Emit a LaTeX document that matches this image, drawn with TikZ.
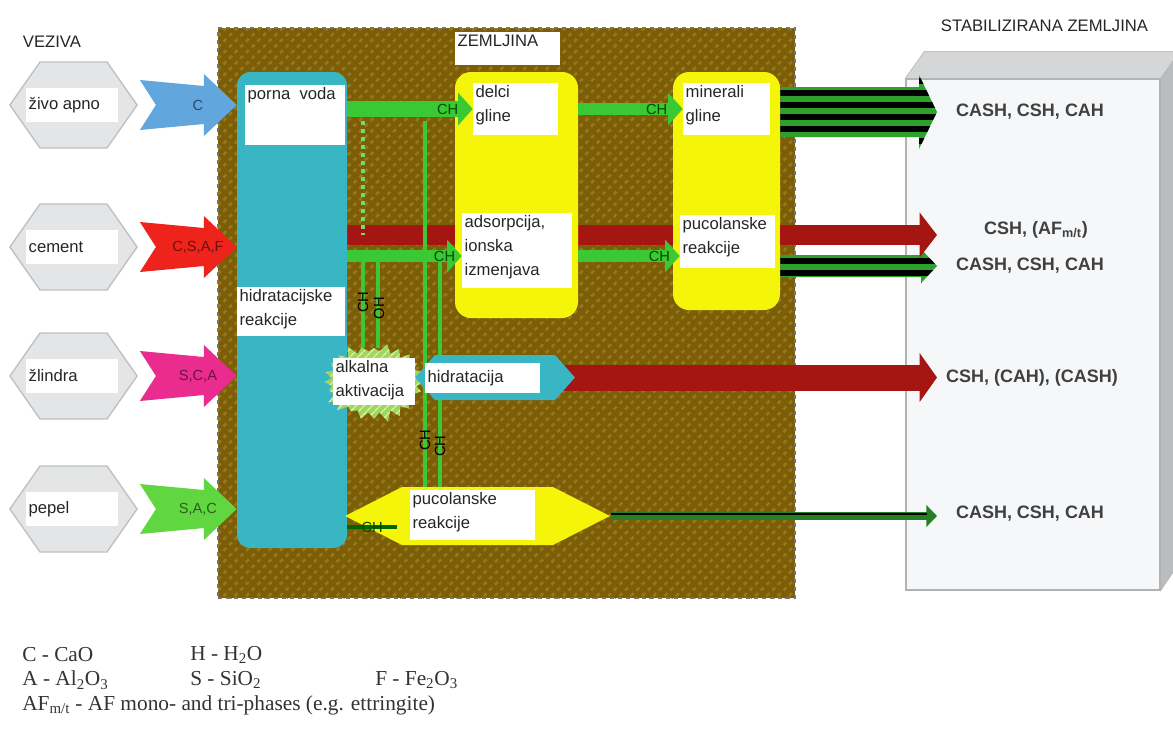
\documentclass[tikz,border=0pt]{standalone}
\usepackage{fontspec}
\setmainfont{Liberation Sans}
\newfontfamily\legendfont{Liberation Serif}
\usepackage{tikz}
\usetikzlibrary{positioning,arrows.meta,calc,fit,shapes.symbols,patterns.meta,backgrounds}
\usepackage{xcolor}

\definecolor{soil}{RGB}{124,94,6}
\definecolor{soilline}{RGB}{150,118,30}
\definecolor{poreblue}{RGB}{56,182,196}
\definecolor{clayyellow}{RGB}{245,245,10}
\definecolor{chgreen}{RGB}{58,200,52}
\definecolor{darkred}{RGB}{165,22,18}
\definecolor{stripegreen}{RGB}{46,160,46}
\definecolor{hexgray}{RGB}{228,229,231}
\definecolor{limeblue}{RGB}{98,166,222}
\definecolor{cemred}{RGB}{238,36,28}
\definecolor{slagpink}{RGB}{234,44,142}
\definecolor{ashgreen}{RGB}{96,214,64}
\definecolor{alkgreen}{RGB}{160,214,90}
\definecolor{boxfront}{RGB}{246,247,249}
\definecolor{boxtop}{RGB}{212,214,215}
\definecolor{boxside}{RGB}{186,188,190}

\begin{document}
\begin{tikzpicture}[x=0.75pt,y=-0.75pt,
  lbl/.style={font=\fontsize{12.5}{18}\selectfont,text=black!85,align=left,inner sep=2pt},
  wbox/.style={fill=white,inner sep=0pt},
  hexa/.style={shape=signal,signal to=west and east,inner sep=0pt},
  result/.style={font=\fontsize{13.5}{15}\selectfont\bfseries,text=black!75},
  chem/.style={font=\fontsize{11}{12}\selectfont},
  chtext/.style={font=\fontsize{11}{12}\selectfont,text=green!30!black,inner sep=1pt},
  charrow/.style={chgreen,line width=12pt,-{Triangle[length=11pt,width=24pt]}},
  redband/.style={darkred,line width=15pt},
  vline/.style={chgreen,line width=2.5pt},
  stripes/.style={fill=stripegreen,postaction={pattern={Lines[angle=0,distance=9pt,line width=4pt]},pattern color=black}},
  legend/.style={font=\legendfont\fontsize{16}{18}\selectfont,text=black!80,anchor=west,inner sep=0pt}]
\useasboundingbox (0,0) rectangle (1173,729);

% soil
\begin{scope}[on background layer]
\node[fit={(218,28)(795,598)},inner sep=0pt,fill=soil,draw=black!55,dashed,line width=1pt,
  postaction={pattern={Lines[angle=45,distance=6pt,line width=2pt]},pattern color=soilline}] (soil) {};
\end{scope}

% titles
\node[lbl,anchor=west] (veziva) at (20,42) {VEZIVA};
\node[lbl,anchor=west] (stabtitle) at (938,26) {STABILIZIRANA ZEMLJINA};
\node[wbox,fit={(455,32)(560,65)}] (zembox) {};
\node[lbl,anchor=north west] (zemtxt) at (zembox.north west) {ZEMLJINA};

% pore water
\node[fit={(237,72)(347,548)},inner sep=0pt,fill=poreblue,rounded corners=10pt] (pore) {};
\node[wbox,fit={(245,85)(345,145)}] (porna) {};
\node[lbl,anchor=north west] (pornatxt) at (porna.north west) {porna\ \ voda};
\node[wbox,fit={(237,287)(345,336)}] (hidr) {};
\node[lbl,anchor=north west] (hidrtxt) at (hidr.north west) {hidratacijske\\reakcije};

% binders
\foreach \y/\name/\txt/\col/\chm in {105/apno/živo apno/limeblue/C,247/cement/cement/cemred/{C,S,A,F},376/zlindra/žlindra/slagpink/{S,C,A},509/pepel/pepel/ashgreen/{S,A,C}}{
  \node[hexa,fit={(40,\y-43)(107,\y+43)},signal pointer angle=110,fill=hexgray,draw=black!25,line width=1pt] (\name) {};
  \node[wbox,fit={(26,\y-17)(118,\y+17)}] (\name w) {};
  \node[lbl,anchor=west] (\name t) at (\name w.west) {\txt};
  \fill[\col] ($(\name.east)+(2,-25)$) -- ($(\name.east)+(66,-19)$) -- ($(\name.east)+(66,-31)$) -- (\name.east -| pore.west)
    -- ($(\name.east)+(66,31)$) -- ($(\name.east)+(66,19)$) -- ($(\name.east)+(2,25)$) -- ($(\name.east)+(18,0)$) -- cycle;
  \node[chem,text=\col!45!black] (\name a) at ($(\name.east)+(60,0)$) {\chm};
}

% clay
\node[fit={(455,72)(578,318)},inner sep=0pt,fill=clayyellow,rounded corners=12pt] (clay) {};
\node[wbox,fit={(473,83)(558,135)}] (delci) {};
\node[lbl,anchor=north west] (delcitxt) at (delci.north west) {delci\\gline};
\node[wbox,fit={(462,213)(572,288)}] (adsorp) {};
\node[lbl,anchor=north west] (adsorptxt) at (adsorp.north west) {adsorpcija,\\ionska\\izmenjava};
\node[fit={(673,72)(780,310)},inner sep=0pt,fill=clayyellow,rounded corners=12pt] (mineral) {};
\node[wbox,fit={(683,83)(770,135)}] (mingl) {};
\node[lbl,anchor=north west] (mingltxt) at (mingl.north west) {minerali\\gline};
\node[wbox,fit={(680,215)(775,268)}] (pucol) {};
\node[lbl,anchor=north west] (pucoltxt) at (pucol.north west) {pucolanske\\reakcije};

% slag and ash
\node[shape=starburst,starburst points=24,starburst point height=8pt,random starburst=3,
  minimum width=80pt,minimum height=62pt,fill=alkgreen,
  postaction={pattern={Lines[angle=45,distance=4pt,line width=1pt]},pattern color=white!70!alkgreen}] (alk) at (374,382) {};
\node[wbox,fit={(333,358)(415,405)}] (alkw) {};
\node[lbl,anchor=north west] (alktxt) at (alkw.north west) {alkalna\\aktivacija};
\node[hexa,fit={(435,355)(555,400)},fill=poreblue,signal pointer angle=97] (hidra) {};
\node[wbox,fit={(425,363)(540,393)}] (hidraw) {};
\node[lbl,anchor=west] (hidratxt) at (hidraw.west) {hidratacija};
\node[hexa,fit={(402,487)(553,545)},fill=clayyellow,signal pointer angle=54] (puc) {};
\node[wbox,fit={(410,490)(535,540)}] (pucw) {};
\node[lbl,anchor=north west] (puctxt) at (pucw.north west) {pucolanske\\reakcije};

% stabilised soil
\node[fit={(906,79)(1160,590)},inner sep=0pt,fill=boxfront,draw=black!30,line width=1pt] (stab) {};
\filldraw[fill=boxtop,draw=black!30] (stab.north west) -- ++(19,-27) -- ++(280,0) -- (stab.north east) -- cycle;
\filldraw[fill=boxside,draw=black!30] (stab.north east) -- ++(19,-27) -- ++(0,511) -- (stab.south east) -- cycle;

\coordinate (tips) at (937,0);
\node[result] (res1) at (1030,112) {CASH, CSH, CAH};
\node[result] (res2) at (1036,230) {CSH, (AF\textsubscript{m/t})};
\node[result] (res3) at (1030,266) {CASH, CSH, CAH};
\node[result] (res4) at (1032,378) {CSH, (CAH), (CASH)};
\node[result] (res5) at (1030,514) {CASH, CSH, CAH};

\coordinate (rowred) at (0,235);
\coordinate (rowch) at (0,256);
\coordinate (va) at (363,121);
\coordinate (vb) at (425,121);
\coordinate (vc) at (440,262);
\coordinate (vd) at (363,262);
\coordinate (ve) at (378,262);
\coordinate (chend) at (397,527);

\begin{scope}[on background layer]
\draw[redband] (pore.east |- rowred) -- (clay.west |- rowred);
\draw[redband] (clay.east |- rowred) -- (mineral.west |- rowred);
\draw[darkred,line width=19.5pt] (hidra.center) -- ($(tips |- hidra.east)+(-30,0)$);
\draw[vline,dashed,chgreen!70!white] (va) -- (va |- rowred);
\draw[vline] (vd) -- (vd |- alk.north);
\draw[vline] (ve) -- (ve |- alk.north);
\draw[vline] (vb) -- (vb |- puc.north);
\draw[vline] (vc) -- (vc |- puc.north);
\end{scope}
\node[chem,rotate=90] (vdt) at (363,302) {CH};
\node[chem,rotate=90] (vet) at (379,308) {OH};
\node[chem,rotate=90] (vbt) at (425,440) {CH};
\node[chem,rotate=90] (vct) at (440,446) {CH};

% CH transport
\draw[charrow] (pore.east |- delci) -- (delci.west) node[pos=0.8,chtext] {CH};
\draw[charrow,line width=9pt] (clay.east |- mingl) -- (mingl.west) node[pos=0.75,chtext] {CH};
\draw[charrow,line width=9pt] (pore.east |- rowch) -- (adsorp.west |- rowch) node[pos=0.85,chtext] {CH};
\draw[charrow,line width=9pt] (clay.east |- rowch) -- (pucol.west |- rowch) node[pos=0.8,chtext] {CH};
\draw[green!40!black,line width=2.5pt] (pore.east |- chend) -- (chend) node[midway,chtext] {CH};

% products
\path[stripes] ($(mineral.east |- res1)+(0,-25)$) -- ($(tips |- res1)+(-18,-25)$) -- ($(tips |- res1)+(-18,-37)$) -- (tips |- res1)
  -- ($(tips |- res1)+(-18,37)$) -- ($(tips |- res1)+(-18,25)$) -- ($(mineral.east |- res1)+(0,25)$) -- cycle;
\path[stripes] ($(mineral.east |- res3)+(0,-11)$) -- ($(tips |- res3)+(-16,-11)$) -- ($(tips |- res3)+(-16,-17)$) -- (tips |- res3)
  -- ($(tips |- res3)+(-16,17)$) -- ($(tips |- res3)+(-16,11)$) -- ($(mineral.east |- res3)+(0,11)$) -- cycle;
\draw[redband,-{Triangle[length=13pt,width=33pt]}] (mineral.east |- rowred) -- (tips |- rowred);
\draw[darkred,line width=19.5pt,-{Triangle[length=13pt,width=36pt]}] ($(tips |- hidra.east)+(-50,0)$) -- (tips |- hidra.east);
\draw[stripegreen!80!black,line width=6pt,-{Triangle[length=8pt,width=16pt]}] (puc.east) -- (tips |- puc.east);
\draw[black,line width=1.5pt] ($(puc.east)+(0,-2)$) -- ($(tips |- puc.east)+(-10,-2)$);

% legend
\node[legend] (lc) at (22,655) {C - CaO};
\node[legend] (lh) at (190,655) {H - H\textsubscript{2}O};
\node[legend] (la) at (22,680) {A - Al\textsubscript{2}O\textsubscript{3}};
\node[legend] (ls) at (190,680) {S - SiO\textsubscript{2}};
\node[legend] (lf) at (375,680) {F - Fe\textsubscript{2}O\textsubscript{3}};
\node[legend] (laf) at (22,705) {AF\textsubscript{m/t} - AF mono- and tri-phases (e.g. ettringite)};
\end{tikzpicture}
\end{document}
